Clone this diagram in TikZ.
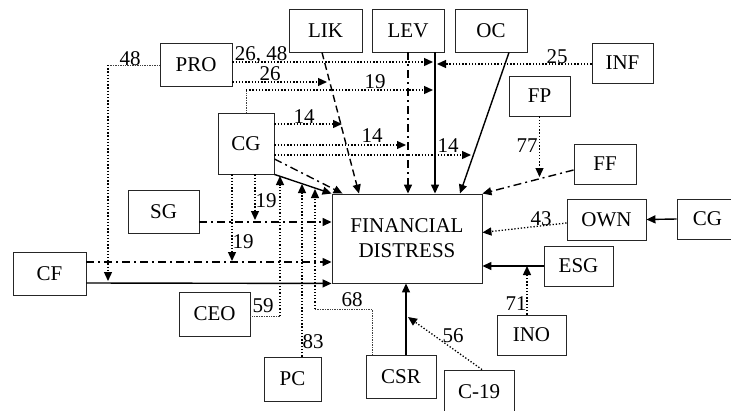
\documentclass[tikz,border=0pt]{standalone}
\usepackage{fontspec}
\setmainfont{Liberation Serif}
\usetikzlibrary{arrows.meta}
\tikzset{
  box/.style={draw=black!85, line width=0.9pt, inner sep=0pt, minimum width=72pt, minimum height=43pt, font=\fontsize{21}{25}\selectfont},
  num/.style={inner sep=0pt, anchor=base, font=\fontsize{21}{25}\selectfont},
  head/.style={-{Triangle[length=9pt,width=8pt]}},
  dotarrow/.style={head, line width=1.3pt, dash pattern=on 1.3pt off 1.9pt},
  leadline/.style={black!75, line width=0.7pt, dash pattern=on 0.7pt off 1pt},
  dashdotarrow/.style={head, line width=1.4pt, dash pattern=on 8pt off 4pt on 2pt off 4pt},
  dashedarrow/.style={head, line width=1.4pt, dash pattern=on 7pt off 4pt},
  solidarrow/.style={head, line width=1.4pt}
}
\begin{document}
\begin{tikzpicture}[x=1pt, y=-1pt]
  \useasboundingbox (0,0) rectangle (731,410);
  % boxes
  \node[box] (pro) at (196,65) {PRO};
  \node[box, minimum width=73pt] (lik) at (325.5,30.5) {LIK};
  \node[box] (lev) at (408,30.5) {LEV};
  \node[box] (oc) at (491,30.5) {OC};
  \node[box, minimum width=61pt, minimum height=40pt] (inf) at (622.5,63) {INF};
  \node[box, minimum width=61pt, minimum height=40pt] (fp) at (539.5,96) {FP};
  \node[box, minimum width=62pt, minimum height=40pt] (ff) at (605,164) {FF};
  \node[box, minimum width=56pt, minimum height=61pt] (cg) at (246,143.5) {CG};
  \node[box, minimum width=71pt] (sg) at (163.5,211.5) {SG};
  \node[box, minimum width=73pt] (cf) at (49.5,273.5) {CF};
  \node[box, minimum width=71pt, minimum height=44pt] (ceo) at (214.5,314) {CEO};
  \node[box, minimum width=57pt, minimum height=44pt] (pc) at (292.5,379) {PC};
  \node[box, minimum width=70pt] (csr) at (401,376.5) {CSR};
  \node[box, minimum width=70pt, minimum height=44pt] (cvd) at (479,392) {C-19};
  \node[box, minimum width=69pt, minimum height=40pt] (ino) at (531.5,335) {INO};
  \node[box, minimum width=69pt, minimum height=40pt] (esg) at (578.5,266) {ESG};
  \node[box, minimum width=79pt, minimum height=41pt] (own) at (606.5,219.5) {OWN};
  \node[box, minimum width=61pt, minimum height=40pt] (cgo) at (707.5,219) {CG};
  \node[box, minimum width=150pt, minimum height=89pt, align=center] (fd) at (407,238.5) {FINANCIAL\\DISTRESS};
  % ends and bends
  \coordinate (levA) at (433,62);
  \coordinate (likA) at (327,82);
  \coordinate (proW) at (108,65);
  \coordinate (cfA) at (108,281);
  \coordinate (cgT) at (246,90);
  \coordinate (levB) at (433,90);
  \coordinate (likB) at (342,124);
  \coordinate (levC) at (406,145);
  \coordinate (ocA) at (471,155);
  \coordinate (levD) at (437,64);
  \coordinate (ffA) at (539.5,177);
  \coordinate (esgA) at (527,266);
  \coordinate (csrA) at (408,317);
  \coordinate (csrT) at (372,309);
  \coordinate (cgF) at (315,309);
  \coordinate (cgD) at (315,189);
  \coordinate (ceoC) at (280,316);
  \coordinate (cgE) at (280,176);
  \coordinate (cgG) at (302,184);
  \coordinate (sgA) at (255,220);
  \coordinate (cfB) at (232,261);
  % top arrows
  \draw[dotarrow] (pro.east |- levA) -- (levA);
  \draw[dotarrow] (pro.east |- likA) -- (likA);
  \draw[leadline] (pro.west) -- (proW);
  \draw[dotarrow] (proW) -- (cfA);
  \draw[leadline] (cg.north) -- (cgT);
  \draw[dotarrow] (cgT) -- (levB);
  \draw[dotarrow] (cg.east |- likB) -- (likB);
  \draw[dotarrow] (cg.east |- levC) -- (levC);
  \draw[dotarrow] (cg.east |- ocA) -- (ocA);
  \draw[dashdotarrow] ([yshift=-15.5pt]cg.east) -- ([xshift=11pt]fd.north west);
  \draw[solidarrow] (cg.south east) -- (fd.north west);
  \draw[dashedarrow] ([xshift=-3.5pt]lik.south) -- ([xshift=-48pt]fd.north);
  \draw[dashdotarrow] (lev.south) -- (lev.south |- fd.north);
  \draw[solidarrow] ([xshift=27pt]lev.south) -- ([xshift=28pt]fd.north);
  \draw[solidarrow] ([xshift=18pt]oc.south) -- ([xshift=53pt]fd.north);
  \draw[dotarrow] (inf.west |- levD) -- (levD);
  \draw[dotarrow] (fp.south) -- (ffA);
  \draw[dashdotarrow] ([yshift=-6pt]ff.west) -- (fd.north east);
  % right side
  \draw[dotarrow] ([yshift=-3.5pt]own.west) -- ([yshift=6pt]fd.east);
  \draw[solidarrow] (cgo.west) -- (own.east);
  \draw[solidarrow] (esg.west) -- (fd.east |- esg.west);
  \draw[dotarrow] ([xshift=-4.5pt]ino.north) -- (esgA);
  % bottom
  \draw[solidarrow] ([xshift=5pt]csr.north) -- ([xshift=5pt]csr.north |- fd.south);
  \draw[dotarrow] ([xshift=3pt]cvd.north) -- (csrA);
  \draw[leadline] ([xshift=-29pt]csr.north) -- (csrT) -- (cgF);
  \draw[dotarrow] (cgF) -- (cgD);
  \draw[leadline] ([yshift=-2pt]ceo.east) -- (ceoC);
  \draw[dotarrow] (ceoC) -- (cgE);
  \draw[dotarrow] ([xshift=9.5pt]pc.north) -- (cgG);
  % left side
  \draw[dashdotarrow] ([yshift=-10.5pt]sg.east) -- ([yshift=16.5pt]fd.west);
  \draw[dotarrow] ([xshift=9pt]cg.south) -- (sgA);
  \draw[dotarrow] ([xshift=-14pt]cg.south) -- (cfB);
  \draw[dashdotarrow] ([yshift=11.5pt]cf.east) -- ([yshift=-23.5pt]fd.west);
  \draw[solidarrow] ([yshift=-9.5pt]cf.east) -- (fd.south west);
  % numbers
  \node[num] (n2648) at (261,60) {26, 48};
  \node[num] (n26) at (270,80) {26};
  \node[num] (n48) at (130,65) {48};
  \node[num] (n19a) at (375,88) {19};
  \node[num] (n14a) at (304,123) {14};
  \node[num] (n14b) at (372,142) {14};
  \node[num] (n14c) at (448,152) {14};
  \node[num] (n25) at (557,63) {25};
  \node[num] (n77) at (527,152) {77};
  \node[num] (n43) at (541,225) {43};
  \node[num] (n71) at (516,310) {71};
  \node[num] (n56) at (453,342) {56};
  \node[num] (n68) at (352,306) {68};
  \node[num] (n59) at (263,312) {59};
  \node[num] (n83) at (313,348) {83};
  \node[num] (n19b) at (266,207) {19};
  \node[num] (n19c) at (243,248) {19};
\end{tikzpicture}
\end{document}
